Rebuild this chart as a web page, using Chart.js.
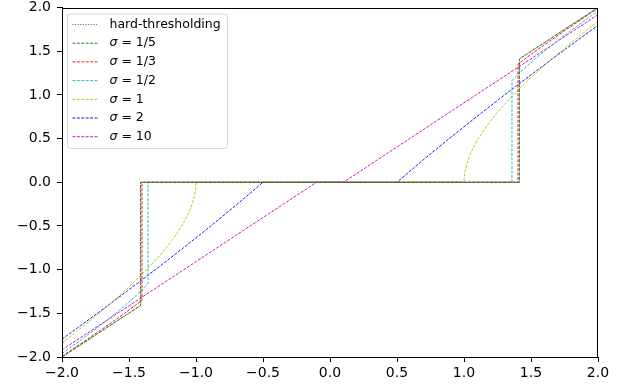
<!DOCTYPE html>
<html>
<head>
<meta charset="utf-8">
<script src="https://cdn.jsdelivr.net/npm/chart.js@4.4.1/dist/chart.umd.min.js"></script>
<style>
  html, body { margin: 0; padding: 0; background: #fff; }
  #wrap { width: 633px; height: 391px; position: relative; }
</style>
</head>
<body>
<div id="wrap"><canvas id="thresh"></canvas></div>
<script>
// values
var tickValues = [-2, -1.5, -1, -0.5, 0, 0.5, 1, 1.5, 2];

var hardX = [-2, -1.414, -1.414, 1.414, 1.414, 2];
var hardY = [-2, -1.414, 0, 0, 1.414, 2];

var s5X = [-2, -1.5, -1.413, -1.413, 1.413, 1.413, 1.5, 2];
var s5Y = [-2, -1.497, -1.409, 0, 0, 1.409, 1.497, 2];

var s3X = [-2, -1.814, -1.625, -1.533, -1.445, -1.403, -1.403, 1.403, 1.403, 1.445, 1.533, 1.625, 1.814, 2];
var s3Y = [-1.992, -1.8, -1.6, -1.5, -1.4, -1.351, 0, 0, 1.351, 1.4, 1.5, 1.6, 1.8, 1.992];

var s2X = [-2, -1.945, -1.855, -1.767, -1.682, -1.6, -1.522, -1.449, -1.381, -1.358, -1.358,
           1.358, 1.358, 1.381, 1.449, 1.522, 1.6, 1.682, 1.767, 1.855, 1.945, 2];
var s2Y = [-1.96, -1.9, -1.8, -1.7, -1.6, -1.5, -1.4, -1.3, -1.2, -1.162, 0,
           0, 1.162, 1.2, 1.3, 1.4, 1.5, 1.6, 1.7, 1.8, 1.9, 1.96];

var s1X = [-2, -1.965, -1.802, -1.647, -1.501, -1.368, -1.307, -1.249, -1.197, -1.149, -1.107, -1.07, -1.041, -1.019, -1.005, -1.001, -1,
           1, 1.001, 1.005, 1.019, 1.041, 1.07, 1.107, 1.149, 1.197, 1.249, 1.307, 1.368, 1.501, 1.647, 1.802, 1.965, 2];
var s1Y = [-1.84, -1.8, -1.6, -1.4, -1.2, -1, -0.9, -0.8, -0.7, -0.6, -0.5, -0.4, -0.3, -0.2, -0.1, -0.05, 0,
           0, 0.05, 0.1, 0.2, 0.3, 0.4, 0.5, 0.6, 0.7, 0.8, 0.9, 1, 1.2, 1.4, 1.6, 1.8, 1.84];

var sTwoX = [-2, -1.958, -1.736, -1.518, -1.303, -1.094, -0.889, -0.691, -0.5, 0.5, 0.691, 0.889, 1.094, 1.303, 1.518, 1.736, 1.958, 2];
var sTwoY = [-1.797, -1.75, -1.5, -1.25, -1, -0.75, -0.5, -0.25, 0, 0, 0.25, 0.5, 0.75, 1, 1.25, 1.5, 1.75, 1.797];

var sTenX = [-2, -1.586, -1.09, -0.595, -0.348, -0.1, 0.1, 0.348, 0.595, 1.09, 1.586, 2];
var sTenY = [-1.918, -1.5, -1, -0.5, -0.25, 0, 0, 0.25, 0.5, 1, 1.5, 1.918];

function pts(xs, ys) {
  var out = [];
  for (var i = 0; i < xs.length; i++) out.push({x: xs[i], y: ys[i]});
  return out;
}

function series(label, xs, ys, color, dash, width) {
  return {
    label: label,
    data: pts(xs, ys),
    showLine: true,
    borderColor: color,
    backgroundColor: color,
    borderWidth: width,
    borderDash: dash,
    pointRadius: 0,
    pointHoverRadius: 0,
    tension: 0,
    fill: false
  };
}

var dashed = [3, 1.4];
var dotted = [1, 1.6];

var datasets = [
  series('hard-thresholding', hardX, hardY, '#555555', dotted, 0.9),
  series('1/5', s5X, s5Y, '#008000', dashed, 0.9),
  series('1/3', s3X, s3Y, '#ff0000', dashed, 0.9),
  series('1/2', s2X, s2Y, '#00bfbf', dashed, 0.9),
  series('1', s1X, s1Y, '#bfbf00', dashed, 0.9),
  series('2', sTwoX, sTwoY, '#0000ff', dashed, 0.9),
  series('10', sTenX, sTenY, '#bf00bf', dashed, 0.9)
];

function fmt(v) {
  var s = Number(v).toFixed(1);
  return s.replace('-', '\u2212');
}

// full box around the axes + matplotlib style legend
var frame = {
  id: 'frame',
  afterDatasetsDraw: function(chart) {
    var ctx = chart.ctx, a = chart.chartArea;
    ctx.save();
    ctx.strokeStyle = '#000';
    ctx.lineWidth = 1;
    ctx.strokeRect(Math.round(a.left) + 0.5, Math.round(a.top) + 0.5,
                   Math.round(a.right - a.left) - 1, Math.round(a.bottom - a.top) - 1);

    // legend
    var bx = 67.5, by = 14, bw = 160, bh = 134.5, r = 3;
    ctx.beginPath();
    ctx.moveTo(bx + r, by);
    ctx.lineTo(bx + bw - r, by);
    ctx.quadraticCurveTo(bx + bw, by, bx + bw, by + r);
    ctx.lineTo(bx + bw, by + bh - r);
    ctx.quadraticCurveTo(bx + bw, by + bh, bx + bw - r, by + bh);
    ctx.lineTo(bx + r, by + bh);
    ctx.quadraticCurveTo(bx, by + bh, bx, by + bh - r);
    ctx.lineTo(bx, by + r);
    ctx.quadraticCurveTo(bx, by, bx + r, by);
    ctx.closePath();
    ctx.fillStyle = 'rgba(255,255,255,0.8)';
    ctx.fill();
    ctx.strokeStyle = '#d6d6d6';
    ctx.lineWidth = 1;
    ctx.stroke();

    var ds = chart.data.datasets;
    var rowY = 24.5, step = 18.7;
    ctx.textBaseline = 'middle';
    for (var i = 0; i < ds.length; i++) {
      var y = rowY + i * step;
      ctx.beginPath();
      ctx.setLineDash(ds[i].borderDash);
      ctx.strokeStyle = ds[i].borderColor;
      ctx.lineWidth = ds[i].borderWidth;
      ctx.moveTo(72.5, y);
      ctx.lineTo(98.5, y);
      ctx.stroke();
      ctx.setLineDash([]);
      ctx.fillStyle = '#000';
      ctx.textAlign = 'left';
      if (i === 0) {
        ctx.font = '12.5px "DejaVu Sans"';
        ctx.fillText(ds[i].label, 109.5, y);
      } else {
        ctx.font = 'italic 12.5px "DejaVu Sans"';
        ctx.fillText('\u03c3', 109.5, y);
        var w = ctx.measureText('\u03c3').width;
        ctx.font = '12.5px "DejaVu Sans"';
        ctx.fillText(' = ' + ds[i].label, 109.5 + w, y);
      }
    }
    ctx.restore();
  }
};

function axisOpts(isX) {
  return {
    type: 'linear',
    min: -2,
    max: 2,
    afterBuildTicks: function(scale) {
      scale.ticks = tickValues.map(function(v) { return {value: v}; });
    },
    afterFit: function(scale) {
      if (isX) scale.height = 34; else scale.width = 62;
      scale.paddingTop = 0;
      scale.paddingBottom = 0;
      scale.paddingLeft = 0;
      scale.paddingRight = 0;
    },
    grid: {
      display: true,
      drawOnChartArea: false,
      drawTicks: true,
      tickLength: 5,
      color: '#000',
      lineWidth: 1
    },
    border: { display: true, color: '#000', width: 1 },
    ticks: {
      autoSkip: false,
      maxRotation: 0,
      padding: isX ? 3 : 6,
      color: '#000',
      font: { family: 'DejaVu Sans', size: 14 },
      callback: function(v) { return fmt(v); }
    }
  };
}

new Chart(document.getElementById('thresh'), {
  type: 'scatter',
  data: { datasets: datasets },
  options: {
    responsive: true,
    maintainAspectRatio: false,
    devicePixelRatio: 1,
    animation: false,
    layout: { padding: { top: 7.5, right: 35, left: 0, bottom: 0 } },
    plugins: {
      legend: { display: false },
      tooltip: { enabled: false }
    },
    scales: {
      x: axisOpts(true),
      y: axisOpts(false)
    }
  },
  plugins: [frame]
});
</script>
</body>
</html>
